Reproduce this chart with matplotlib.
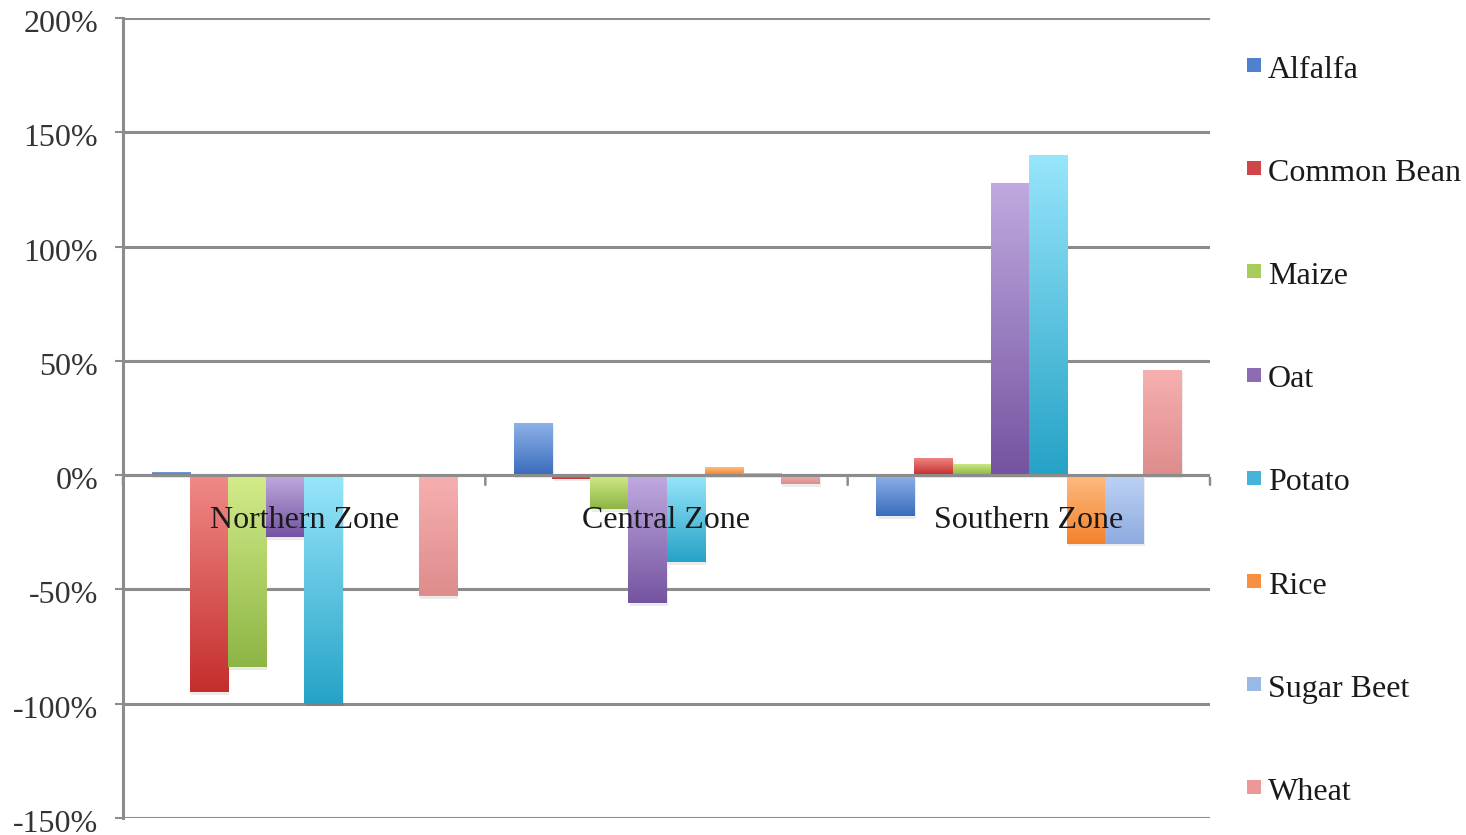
import numpy as np
import matplotlib
matplotlib.use("Agg")
import matplotlib.pyplot as plt
from matplotlib.colors import LinearSegmentedColormap
from matplotlib.patches import Rectangle
from matplotlib.transforms import ScaledTranslation

# Percentage change per crop in each zone
zones = ["Northern Zone", "Central Zone", "Southern Zone"]
crops = ["Alfalfa", "Common Bean", "Maize", "Oat", "Potato", "Rice", "Sugar Beet", "Wheat"]

alfalfa = [1.5, 23, -18]
common_bean = [-95, -1.5, 7.5]
maize = [-84, -15, 5]
oat = [-27, -56, 128]
potato = [-100, -38, 140]
rice = [0, 3.5, -30]
sugar_beet = [0, 1, -30]
wheat = [-53, -4, 46]

values = [alfalfa, common_bean, maize, oat, potato, rice, sugar_beet, wheat]

yticks = [-150, -100, -50, 0, 50, 100, 150, 200]
ytick_labels = ["-150%", "-100%", "-50%", "0%", "50%", "100%", "150%", "200%"]

# light (top) / dark (bottom) gradient ends for each series
grad_colors = [
    ("#8fb3ea", "#3a6cbc"),
    ("#f08a88", "#c42e2c"),
    ("#d2ec8a", "#8db544"),
    ("#c0aae0", "#7453a0"),
    ("#98e6fb", "#25a2c6"),
    ("#fdbb82", "#f4822c"),
    ("#bdd2f5", "#8eabdf"),
    ("#f7b0b0", "#de8c8c"),
]
legend_colors = ["#4f81cf", "#d0454a", "#a6cc5c", "#8a6bb4", "#46b4d8", "#f79040", "#9ab8e6", "#ec9898"]

serif = ["Liberation Serif", "DejaVu Serif"]
plt.rcParams["font.family"] = serif

W, H, DPI = 1466, 835, 100
fig = plt.figure(figsize=(W / DPI, H / DPI), dpi=DPI)
ax = fig.add_axes([123 / W, 1 - 818 / H, (1210 - 123) / W, (818 - 18) / H])

n = len(crops)
bw = 1 / (n + 1.5)
x = np.arange(len(zones))
grad = np.linspace(0, 1, 256).reshape(-1, 1)

for j, (crop, vals) in enumerate(zip(crops, values)):
    cmap = LinearSegmentedColormap.from_list(crop, [grad_colors[j][0], grad_colors[j][1]])
    bars = ax.bar(x + (j - (n - 1) / 2) * bw, vals, width=bw, color="none",
                  edgecolor="none", zorder=3)
    for b in bars:
        x0, y0 = b.get_x(), b.get_y()
        w, h = b.get_width(), b.get_height()
        lo, hi = min(y0, y0 + h), max(y0, y0 + h)
        if hi - lo <= 0:
            continue
        # soft drop shadow under the bar
        ax.add_patch(Rectangle((x0 + 0.004, lo - 1.2), w, hi - lo, facecolor="#000000",
                               alpha=0.08, edgecolor="none", zorder=2.5))
        im = ax.imshow(grad, cmap=cmap, aspect="auto", extent=[x0, x0 + w, lo, hi],
                       origin="upper", zorder=3, interpolation="bilinear")
        im.set_clip_path(b)

ax.set_xlim(-0.5, len(zones) - 0.5)
ax.set_ylim(-150, 200)

# horizontal gridlines
for t in yticks:
    ax.axhline(t, color="#8c8c8c", lw=2.2, zorder=1)
ax.axhline(0, color="#8c8c8c", lw=2.2, zorder=5)

for s in ["top", "right", "bottom"]:
    ax.spines[s].set_visible(False)
ax.spines["left"].set_color("#8c8c8c")
ax.spines["left"].set_linewidth(2.2)

ax.set_yticks(yticks)
ax.set_yticklabels(ytick_labels, fontsize=23, color="#333333")
ax.tick_params(axis="y", length=6, width=1.5, color="#8c8c8c", pad=12)
ax.set_xticks([])
shift = ScaledTranslation(0, -3 / DPI, fig.dpi_scale_trans)
for lbl in ax.get_yticklabels():
    lbl.set_transform(lbl.get_transform() + shift)

# category tick marks along the zero line
for b in np.arange(len(zones) + 1) - 0.5:
    ax.annotate("", xy=(b, 0), xytext=(0, -9), textcoords="offset points",
                arrowprops=dict(arrowstyle="-", color="#8c8c8c", lw=1.8), zorder=5)

# zone labels sitting just below the zero line
for i, z in enumerate(zones):
    ax.annotate(z, xy=(i, 0), xytext=(0, -33), textcoords="offset points",
                ha="center", va="center", fontsize=23, color="#1a1a1a", zorder=6)

# legend
leg_y0, leg_dy = 67, 103.2
for j, crop in enumerate(crops):
    yc = leg_y0 + j * leg_dy
    fig.patches.append(Rectangle((1247 / W, 1 - (yc + 5) / H), 14 / W, 14 / H,
                                 transform=fig.transFigure, facecolor=legend_colors[j],
                                 edgecolor="none"))
    fig.text(1268 / W, 1 - (yc + 3) / H, crop, fontsize=23, color="#1a1a1a",
             ha="left", va="center")

fig.savefig("out.png", dpi=DPI)
